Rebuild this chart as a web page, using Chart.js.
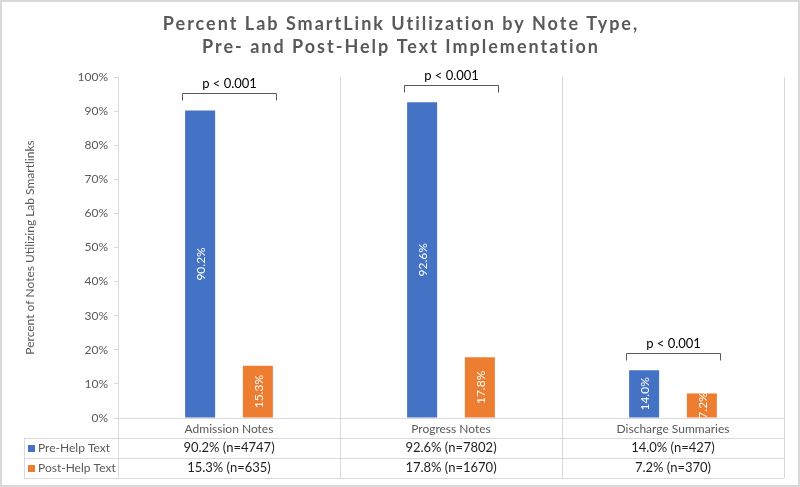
<!DOCTYPE html>
<html>
<head>
<meta charset="utf-8">
<title>Lab SmartLink Utilization</title>
<script src="https://cdn.jsdelivr.net/npm/chart.js@4.4.1/dist/chart.umd.min.js"></script>
<style>
    html, body { margin: 0; padding: 0; background: #fff; }
    #wrap { width: 800px; height: 487px; position: relative; }
</style>
</head>
<body>
<div id="wrap"><canvas id="chart"></canvas></div>
<script>
// Chart data
const categories = ['Admission Notes', 'Progress Notes', 'Discharge Summaries'];
const seriesNames = ['Pre-Help Text', 'Post-Help Text'];
const preHelp = [90.2, 92.6, 14.0];
const postHelp = [15.3, 17.8, 7.2];
const preN = [4747, 7802, 427];
const postN = [635, 1670, 370];
const pLabels = ['p < 0.001', 'p < 0.001', 'p < 0.001'];
const yTickValues = [0, 10, 20, 30, 40, 50, 60, 70, 80, 90, 100];
const titleLines = ['Percent Lab SmartLink Utilization by Note Type,', 'Pre- and Post-Help Text Implementation'];
const yTitle = 'Percent of Notes Utilizing Lab Smartlinks';

const colors = ['#4472C4', '#ED7D31'];
const FONT = 'Lato, "Open Sans", sans-serif';
const GRID = '#d9d9d9';
const TEXT = '#595959';

// Labels inside bars, significance brackets, data table, title, frame
const extrasPlugin = {
    id: 'extras',
    afterDatasetsDraw(chart) {
        const ctx = chart.ctx;
        const metas = [chart.getDatasetMeta(0), chart.getDatasetMeta(1)];

        // rotated value labels
        ctx.save();
        ctx.fillStyle = '#fff';
        ctx.font = '12px ' + FONT;
        ctx.textAlign = 'center';
        ctx.textBaseline = 'middle';
        metas.forEach((meta, d) => {
            meta.data.forEach((bar, i) => {
                const v = chart.data.datasets[d].data[i];
                ctx.save();
                ctx.translate(bar.x, (bar.y + bar.base) / 2);
                ctx.rotate(-Math.PI / 2);
                ctx.fillText(v.toFixed(1) + '%', 0, 1);
                ctx.restore();
            });
        });
        ctx.restore();

        // brackets
        ctx.save();
        ctx.strokeStyle = TEXT;
        ctx.lineWidth = 1;
        ctx.fillStyle = '#000';
        ctx.font = '13px ' + FONT;
        ctx.textAlign = 'center';
        ctx.textBaseline = 'alphabetic';
        categories.forEach((c, i) => {
            const a = metas[0].data[i], b = metas[1].data[i];
            const x1 = Math.round(a.x - a.width / 2 - 3) + 0.5;
            const x2 = Math.round(b.x + b.width / 2 + 3) + 0.5;
            const y = Math.round(Math.min(a.y, b.y) - 17) + 0.5;
            ctx.beginPath();
            ctx.moveTo(x1, y + 7);
            ctx.lineTo(x1, y);
            ctx.lineTo(x2, y);
            ctx.lineTo(x2, y + 7);
            ctx.stroke();
            ctx.fillText(pLabels[i], (x1 + x2) / 2, y - 6);
        });
        ctx.restore();
    },
    afterDraw(chart) {
        const ctx = chart.ctx;
        const area = chart.chartArea;
        const xs = chart.scales.x;
        const catW = (area.right - area.left) / categories.length;
        const rowTop = area.bottom + 20;
        const rowH = 20;
        const tableLeft = 24;

        ctx.save();
        // table lines
        ctx.strokeStyle = GRID;
        ctx.lineWidth = 1;
        ctx.beginPath();
        for (let r = 0; r <= 2; r++) {
            const y = Math.round(rowTop + r * rowH) + 0.5;
            ctx.moveTo(tableLeft, y);
            ctx.lineTo(area.right, y);
        }
        ctx.moveTo(tableLeft + 0.5, rowTop);
        ctx.lineTo(tableLeft + 0.5, rowTop + 2 * rowH);
        for (let i = 0; i <= categories.length; i++) {
            const x = Math.round(area.left + i * catW) + 0.5;
            ctx.moveTo(x, area.bottom);
            ctx.lineTo(x, rowTop + 2 * rowH);
        }
        ctx.stroke();

        // legend keys + row labels
        const rows = [[preHelp, preN], [postHelp, postN]];
        rows.forEach((row, r) => {
            const cy = rowTop + r * rowH + rowH / 2;
            ctx.fillStyle = colors[r];
            ctx.fillRect(28, Math.round(cy - 3.5), 7, 7);
            ctx.fillStyle = TEXT;
            ctx.font = '12px ' + FONT;
            ctx.textAlign = 'left';
            ctx.textBaseline = 'middle';
            ctx.fillText(seriesNames[r], 38, cy);

            ctx.fillStyle = '#1f1f1f';
            ctx.font = '13px ' + FONT;
            ctx.textAlign = 'center';
            categories.forEach((c, i) => {
                const txt = row[0][i].toFixed(1) + '% (n=' + row[1][i] + ')';
                ctx.fillText(txt, xs.getPixelForValue(i), cy);
            });
        });

        // title
        ctx.fillStyle = TEXT;
        ctx.font = 'bold 18px ' + FONT;
        ctx.textAlign = 'center';
        ctx.textBaseline = 'middle';
        ctx.letterSpacing = '2px';
        titleLines.forEach((t, i) => ctx.fillText(t, chart.width / 2 + 1, 24 + i * 23));
        ctx.letterSpacing = '0px';

        // outer frame
        ctx.strokeStyle = GRID;
        ctx.lineWidth = 2;
        ctx.strokeRect(1, 1, chart.width - 2, chart.height - 2);
        ctx.restore();
    }
};

new Chart(document.getElementById('chart'), {
    type: 'bar',
    data: {
        labels: categories,
        datasets: [
            { label: seriesNames[0], data: preHelp, backgroundColor: colors[0] },
            { label: seriesNames[1], data: postHelp, backgroundColor: colors[1] }
        ]
    },
    options: {
        responsive: true,
        maintainAspectRatio: false,
        animation: false,
        categoryPercentage: 0.52,
        barPercentage: 0.52,
        layout: { padding: { top: 77, right: 16, bottom: 0, left: 0 } },
        plugins: {
            legend: { display: false },
            tooltip: { enabled: false }
        },
        scales: {
            x: {
                grid: { offset: true, color: GRID, drawTicks: false },
                border: { color: GRID },
                ticks: { color: TEXT, font: { family: FONT, size: 12 }, padding: 4 },
                afterFit: scale => { scale.height = 69; }
            },
            y: {
                min: 0,
                max: 100,
                afterBuildTicks: scale => { scale.ticks = yTickValues.map(v => ({ value: v })); },
                grid: { drawOnChartArea: false, color: GRID, tickLength: 4 },
                border: { color: GRID },
                ticks: {
                    color: TEXT,
                    font: { family: FONT, size: 12 },
                    padding: 6,
                    callback: v => v + '%'
                },
                title: {
                    display: true,
                    text: yTitle,
                    color: TEXT,
                    font: { family: FONT, size: 12 },
                    padding: { top: 23, bottom: 0 }
                },
                afterFit: scale => { scale.width = 118; }
            }
        }
    },
    plugins: [extrasPlugin]
});
</script>
</body>
</html>
